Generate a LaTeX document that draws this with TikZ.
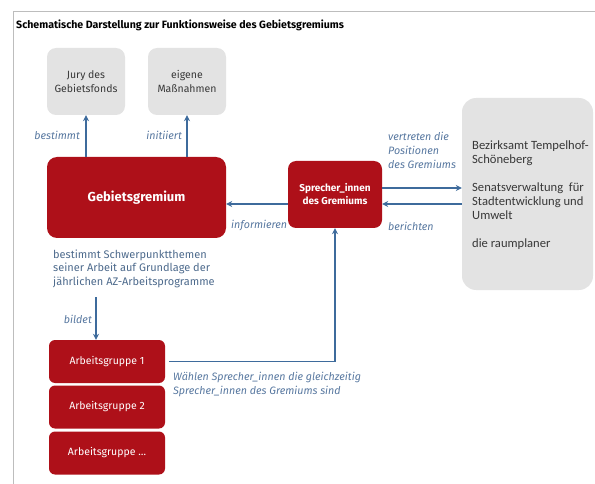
\documentclass[tikz,border=0pt]{standalone}
\usepackage{fontspec}
\setmainfont{Fira Sans}
\newfontfamily\calfont{Carlito}
\usetikzlibrary{arrows.meta,calc}
\definecolor{gred}{HTML}{AE1019}
\definecolor{gbox}{HTML}{E3E3E3}
\definecolor{arrblue}{HTML}{3E6B9C}
\definecolor{lblue}{HTML}{5878A0}
\definecolor{dtext}{HTML}{4D6A8C}
\definecolor{framecol}{HTML}{BDBDBD}
\begin{document}
\begin{tikzpicture}[x=1pt,y=-1pt,
  graybox/.style={fill=gbox, rounded corners=9pt, minimum width=78pt, minimum height=67pt, align=center, inner sep=0pt, font=\fontsize{10.5}{14}\selectfont, text=black!78},
  redbox/.style={fill=gred, text=white, rounded corners=8pt, inner sep=0pt, align=center},
  agbox/.style={redbox, rounded corners=6pt, minimum width=116pt, minimum height=43pt, font=\fontsize{10.5}{12}\selectfont},
  arr/.style={draw=arrblue, line width=1.4pt, -{Stealth[length=6pt,width=6pt]}},
  lbl/.style={text=lblue, font=\fontsize{10.7}{14}\selectfont\itshape, inner sep=0pt, align=left},
]
\useasboundingbox (0,0) rectangle (595,484);
\draw[framecol, line width=1pt] (13,484) -- (13,12) -- (595,12);
\node[anchor=west, inner sep=0pt, font=\fontsize{10.6}{12}\selectfont\bfseries] (title) at (16,25) {Schematische Darstellung zur Funktionsweise des Gebietsgremiums};

\node[graybox] (jury) at (86,81.5) {Jury des\\Gebietsfonds};
\node[graybox] (eig) at (187,81.5) {eigene\\Maßnahmen};

\node[redbox, minimum width=179pt, minimum height=81pt, rounded corners=10pt, font=\fontsize{13}{15}\selectfont\bfseries] (geb) at (136.5,197.5) {Gebietsgremium};
\node[redbox, minimum width=94pt, minimum height=67pt, font=\fontsize{10}{13}\selectfont\bfseries] (spr) at (335,194.5) {Sprecher\_innen\\des Gremiums};

\node[fill=gbox, rounded corners=14pt, minimum width=131pt, minimum height=192pt, inner sep=0pt] (rb) at (527.5,194) {};
\node[anchor=west, inner sep=0pt, align=left, text=black!78, font=\calfont\fontsize{12.6}{14}\selectfont] (rbt) at (472,195) {Bezirksamt Tempelhof-\\Schöneberg\\[14pt]Senatsverwaltung\ \ für\\Stadtentwicklung und\\Umwelt\\[14pt]die raumplaner};

\node[agbox] (ag1) at (107,361.5) {Arbeitsgruppe 1};
\node[agbox] (ag2) at (107,407) {Arbeitsgruppe 2};
\node[agbox] (ag3) at (107,453) {Arbeitsgruppe \dots};

\node[anchor=west, inner sep=0pt, align=left, text=dtext, font=\fontsize{11}{13.5}\selectfont] (desc) at (53,268.5) {bestimmt Schwerpunktthemen\\seiner Arbeit auf Grundlage der\\jährlichen AZ-Arbeitsprogramme};

% arrows
\draw[arr] (geb.north -| jury) -- (jury.south);
\draw[arr] (geb.north -| eig) -- (eig.south);
\draw[arr] (spr.west |- 0,204) -- (geb.east |- 0,204);
\draw[arr] (spr.east |- 0,188) -- (rb.west |- 0,188);
\draw[arr] (rb.west |- 0,204) -- (spr.east |- 0,204);
\coordinate (bstart) at (96,297);
\draw[arr] (bstart) -- (ag1.north -| bstart);
\draw[arr, shorten <=4pt] (ag1.east) -| (spr.south);

% labels
\node[lbl, anchor=east] (l1) at (80,135) {bestimmt};
\node[lbl, anchor=east] (l2) at (182,135) {initiiert};
\node[lbl, anchor=west] (l3) at (231,225) {informieren};
\node[lbl, anchor=west] (l4) at (388,226) {berichten};
\node[lbl, anchor=west] (l5) at (388,150) {vertreten die\\Positionen\\des Gremiums};
\node[lbl, anchor=east] (l6) at (92,319) {bildet};
\node[lbl, anchor=west] (l7) at (173,384.5) {Wählen Sprecher\_innen die gleichzeitig\\Sprecher\_innen des Gremiums sind};
\end{tikzpicture}
\end{document}
